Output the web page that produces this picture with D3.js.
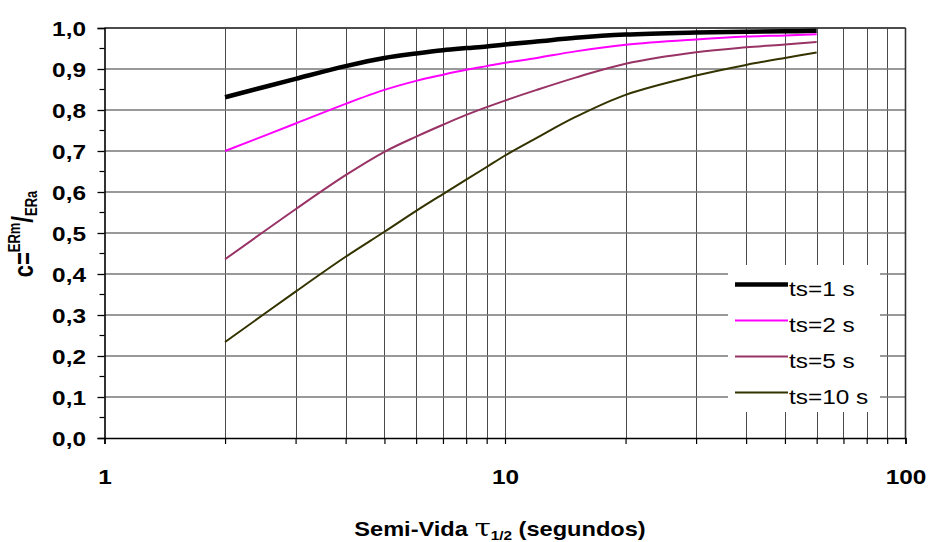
<!DOCTYPE html>
<html>
<head>
<meta charset="utf-8">
<script src="https://cdn.jsdelivr.net/npm/d3@7"></script>
<style>
  body { margin: 0; background: #fff; }
  svg { display: block; font-family: Arial, "Liberation Sans", sans-serif; }
</style>
</head>
<body>
<svg id="chart" width="928" height="542"></svg>
<script>
// ---- data ----
const halfLife = [2, 3, 4, 5, 6, 7, 8, 9, 10, 12, 15, 20, 30, 40, 50, 60];
const ts1  = [0.831, 0.876, 0.907, 0.927, 0.938, 0.946, 0.951, 0.955, 0.960, 0.967, 0.976, 0.984, 0.989, 0.991, 0.992, 0.993];
const ts2  = [0.700, 0.767, 0.815, 0.849, 0.871, 0.886, 0.898, 0.907, 0.915, 0.927, 0.943, 0.959, 0.972, 0.979, 0.982, 0.985];
const ts5  = [0.436, 0.558, 0.641, 0.698, 0.735, 0.764, 0.788, 0.807, 0.823, 0.849, 0.879, 0.913, 0.941, 0.953, 0.960, 0.966];
const ts10 = [0.234, 0.357, 0.442, 0.503, 0.554, 0.595, 0.630, 0.661, 0.689, 0.732, 0.783, 0.837, 0.884, 0.910, 0.927, 0.940];
const seriesNames = ["ts=1 s", "ts=2 s", "ts=5 s", "ts=10 s"];
const seriesColors = ["#000000", "#FF00FF", "#993366", "#333300"];
const seriesWidths = [4.5, 2, 2, 2];
const xMajorTicks = [1, 10, 100];
const yTicks = [0, 0.1, 0.2, 0.3, 0.4, 0.5, 0.6, 0.7, 0.8, 0.9, 1.0];

const series = [ts1, ts2, ts5, ts10].map((vals, i) => ({
  name: seriesNames[i], color: seriesColors[i], width: seriesWidths[i],
  values: vals.map((v, j) => ({ x: halfLife[j], y: v }))
}));

// ---- layout ----
const pLeft = 104.5, pRight = 905.5, pTop = 28, pBottom = 438;
const SX = 1.22; // horizontal text stretch seen in the reference
const svg = d3.select("#chart");
const x = d3.scaleLog().domain([1, 100]).range([pLeft, pRight]);
const y = d3.scaleLinear().domain([0, 1]).range([pBottom, pTop]);

const xAll = x.ticks(20).filter(d => d >= 1 && d <= 100);

// vertical grid
svg.append("g").selectAll("line")
  .data(xAll.filter(d => d > 1 && d < 100))
  .join("line")
  .attr("x1", d => Math.round(x(d)) + 0.5).attr("x2", d => Math.round(x(d)) + 0.5)
  .attr("y1", pTop).attr("y2", pBottom)
  .attr("stroke", "#4a4a4a").attr("stroke-width", 1);

// horizontal grid
svg.append("g").selectAll("line")
  .data(yTicks.filter(d => d > 0))
  .join("line")
  .attr("x1", pLeft).attr("x2", pRight)
  .attr("y1", d => y(d)).attr("y2", d => y(d))
  .attr("stroke", "#777").attr("stroke-width", 1.6);

// plot border (top/right)
svg.append("line").attr("x1", pLeft).attr("x2", pRight).attr("y1", pTop).attr("y2", pTop)
  .attr("stroke", "#333").attr("stroke-width", 1.6);
svg.append("line").attr("x1", pRight).attr("x2", pRight).attr("y1", pTop).attr("y2", pBottom)
  .attr("stroke", "#333").attr("stroke-width", 1.6);

// y axis
const yAxis = d3.axisLeft(y).tickValues(yTicks).tickSize(7).tickPadding(10)
  .tickFormat(d => d3.format(".1f")(d).replace(".", ","));
const gy = svg.append("g").attr("transform", `translate(${pLeft},0)`).call(yAxis);
gy.select(".domain").attr("stroke", "#000").attr("stroke-width", 1.6);
gy.selectAll(".tick line").attr("stroke", "#000").attr("stroke-width", 1.3);
gy.selectAll(".tick text").attr("font-size", 20).attr("font-weight", "bold")
  .attr("font-family", "Arial, 'Liberation Sans', sans-serif").attr("fill", "#000")
  .attr("x", -18.5 / SX).attr("dy", "0.36em").attr("transform", `scale(${SX},1)`);
// minor y ticks
svg.append("g").selectAll("line")
  .data(d3.range(0.05, 1, 0.1))
  .join("line")
  .attr("x1", pLeft - 5).attr("x2", pLeft)
  .attr("y1", d => y(d)).attr("y2", d => y(d))
  .attr("stroke", "#000").attr("stroke-width", 1.2);

// x axis
const xAxis = d3.axisBottom(x).tickValues(xAll).tickSize(6).tickPadding(26)
  .tickFormat(d => xMajorTicks.includes(d) ? d3.format("d")(d) : "");
const gx = svg.append("g").attr("transform", `translate(0,${pBottom})`).call(xAxis);
gx.select(".domain").attr("stroke", "#000").attr("stroke-width", 1.6);
gx.selectAll(".tick line").attr("stroke", "#000").attr("stroke-width", 1.2);
gx.selectAll(".tick text").attr("font-size", 20).attr("font-weight", "bold")
  .attr("font-family", "Arial, 'Liberation Sans', sans-serif").attr("fill", "#000")
  .attr("transform", `scale(${SX},1)`);

// series lines
const line = d3.line().x(d => x(d.x)).y(d => y(d.y)).curve(d3.curveCatmullRom.alpha(0.5));
svg.append("g").selectAll("path")
  .data(series)
  .join("path")
  .attr("d", d => line(d.values))
  .attr("fill", "none")
  .attr("stroke", d => d.color)
  .attr("stroke-width", d => d.width)
  .attr("stroke-linejoin", "round");

// legend
const lg = svg.append("g");
lg.append("rect").attr("x", 728).attr("y", 265).attr("width", 152).attr("height", 147).attr("fill", "#fff");
const items = lg.selectAll("g.item").data(series).join("g").attr("class", "item")
  .attr("transform", (d, i) => `translate(0,${284.5 + i * 36})`);
items.append("line").attr("x1", 735).attr("x2", 788).attr("y1", 0).attr("y2", 0)
  .attr("stroke", d => d.color).attr("stroke-width", d => d.width);
items.append("text").attr("transform", "translate(789,11) scale(1.25,1)")
  .attr("font-size", 19.5).attr("fill", "#000").text(d => d.name);

// x axis title
const xt = svg.append("text").attr("transform", `translate(500,536) scale(1.18,1)`)
  .attr("text-anchor", "middle")
  .attr("font-size", 20).attr("font-weight", "bold").attr("fill", "#000");
xt.append("tspan").text("Semi-Vida ");
xt.append("tspan").attr("font-size", 25).attr("font-weight", "normal")
  .attr("font-family", "'DejaVu Serif', serif").text("τ");
xt.append("tspan").attr("font-size", 13).attr("dy", 4).text("1/2");
xt.append("tspan").attr("dy", -4).text(" (segundos)");

// y axis title
const yt = svg.append("text").attr("transform", `translate(33,234) scale(${SX},1) rotate(-90)`)
  .attr("text-anchor", "middle").attr("font-weight", "bold").attr("fill", "#000").attr("font-size", 22);
yt.append("tspan").text("c=");
yt.append("tspan").attr("font-size", 13).attr("dy", -10.5).text("ERm");
yt.append("tspan").attr("font-size", 24).attr("dy", 10.5).text("/");
yt.append("tspan").attr("font-size", 13).attr("dy", 3.3).text("ERa");
</script>
</body>
</html>
